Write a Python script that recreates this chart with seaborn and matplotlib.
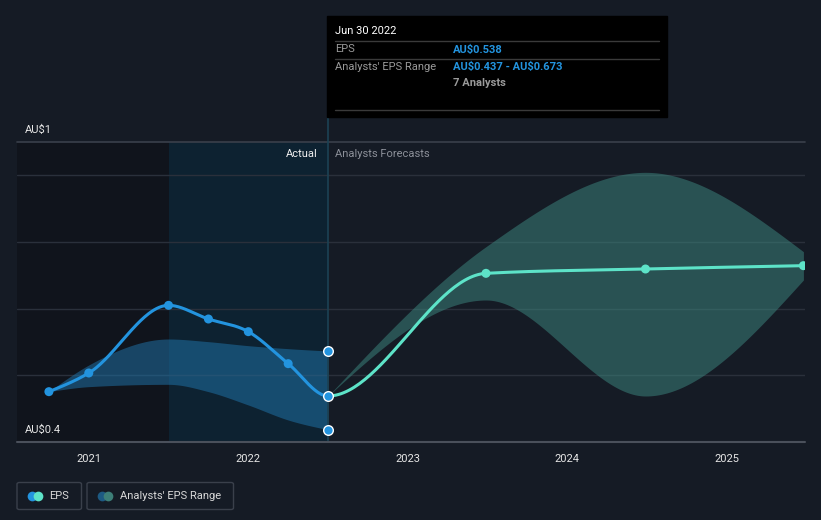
import numpy as np
import pandas as pd
import matplotlib
matplotlib.use("Agg")
import matplotlib.pyplot as plt
from matplotlib.patches import Rectangle, FancyBboxPatch
from matplotlib.lines import Line2D
import seaborn as sns

# ---------------- data ----------------
hist_x = [2020.75, 2021.0, 2021.5, 2021.75, 2022.0, 2022.25, 2022.5]
hist_eps = [0.551, 0.607, 0.810, 0.769, 0.731, 0.635, 0.538]
hist_low = [0.551, 0.566, 0.573, 0.551, 0.511, 0.466, 0.437]
hist_high = [0.551, 0.631, 0.709, 0.701, 0.689, 0.680, 0.673]

fc_x = [2022.5, 2023.49, 2024.49, 2025.48]
fc_eps = [0.538, 0.906, 0.919, 0.929]
fc_low = [0.538, 0.826, 0.538, 0.886]
fc_high = [0.538, 0.986, 1.209, 0.971]

year_ticks = [2021, 2022, 2023, 2024, 2025]
year_labels = ["2021", "2022", "2023", "2024", "2025"]
grid_vals = [0.6, 0.8, 1.0, 1.2]

# ---------------- helpers ----------------
def monotone(xs, ys, n=60):
    xs = np.asarray(xs, float); ys = np.asarray(ys, float)
    k = len(xs)
    h = np.diff(xs); s = np.diff(ys) / h
    t = np.zeros(k)
    for i in range(1, k - 1):
        h0, h1, s0, s1 = h[i - 1], h[i], s[i - 1], s[i]
        p = (s0 * h1 + s1 * h0) / (h0 + h1)
        t[i] = (np.sign(s0) + np.sign(s1)) * min(abs(s0), abs(s1), 0.5 * abs(p))
    if k > 2:
        t[0] = (3 * s[0] - t[1]) / 2
        t[-1] = (3 * s[-1] - t[-2]) / 2
    else:
        t[0] = t[-1] = s[0]
    ox, oy = [], []
    for i in range(k - 1):
        u = np.linspace(0, 1, n, endpoint=(i == k - 2))
        hh = h[i]
        h00 = 2 * u**3 - 3 * u**2 + 1
        h10 = u**3 - 2 * u**2 + u
        h01 = -2 * u**3 + 3 * u**2
        h11 = u**3 - u**2
        ox.append(xs[i] + u * hh)
        oy.append(h00 * ys[i] + h10 * hh * t[i] + h01 * ys[i + 1] + h11 * hh * t[i + 1])
    return np.concatenate(ox), np.concatenate(oy)

# ---------------- style ----------------
BG = "#151b25"
sns.set_theme(style="dark")
plt.rcParams.update({
    "figure.facecolor": BG, "axes.facecolor": BG, "savefig.facecolor": BG,
})
plt.rcParams["font.family"] = ["Roboto", "DejaVu Sans"]

W, H = 821, 520
fig = plt.figure(figsize=(W / 100, H / 100), dpi=100)
ax = fig.add_axes([17 / W, 1 - 442 / H, (805 - 17) / W, (442 - 142) / H])
ax.set_facecolor(BG)
XMIN, XMAX = 2020.55, 2025.49
YMIN, YMAX = 0.4, 1.3
ax.set_xlim(XMIN, XMAX)
ax.set_ylim(YMIN, YMAX)

def fx(px):
    return px / W

def fy(py):
    return 1 - py / H

# background regions
ax.axvspan(XMIN, 2021.5, color="#10141c", zorder=0, lw=0)
ax.axvspan(2021.5, 2022.5, color="#0d2231", zorder=0, lw=0)

# grid lines
for g in grid_vals:
    ax.axhline(g, color="#2a303b", lw=1, zorder=1)
ax.axhline(YMAX, color="#3a404b", lw=1.2, zorder=1, clip_on=False)

# bands
bx, bl = monotone(hist_x, hist_low)
_, bh = monotone(hist_x, hist_high)
ax.fill_between(bx, bl, bh, color="#1f6fa3", alpha=0.55, lw=0, zorder=2)
fxs, fl = monotone(fc_x, fc_low)
_, fh = monotone(fc_x, fc_high)
ax.fill_between(fxs, fl, fh, color="#3d8a82", alpha=0.5, lw=0, zorder=2)

# lines: one smooth EPS series, coloured by actual / forecast
all_x = hist_x + fc_x[1:]
all_eps = hist_eps + fc_eps[1:]
ex, ey = monotone(all_x, all_eps)
split = hist_x[-1]
m_h = ex <= split + 1e-9
m_f = ex >= split - 1e-9
sns.lineplot(x=ex[m_h], y=ey[m_h], ax=ax, color="#2394df", lw=2.2, zorder=4, sort=False, estimator=None)
sns.lineplot(x=ex[m_f], y=ey[m_f], ax=ax, color="#5de3c8", lw=2.2, zorder=4, sort=False, estimator=None)

# markers
sns.scatterplot(x=hist_x[:-1], y=hist_eps[:-1], ax=ax, color="#2394df", s=42,
                edgecolor="none", zorder=5)
sns.scatterplot(x=fc_x[1:], y=fc_eps[1:], ax=ax, color="#5de3c8", s=42,
                edgecolor="none", zorder=5)
sns.scatterplot(x=[2022.5, 2022.5, 2022.5], y=[hist_eps[-1], hist_low[-1], hist_high[-1]],
                ax=ax, color="#2394df", s=48, edgecolor="white", linewidth=1.0, zorder=6)

# vertical marker line
ax.plot([2022.5, 2022.5], [YMIN, YMAX], color="#1c4254", lw=1.2, zorder=3)
fig.add_artist(Line2D([fx(327.5), fx(327.5)], [fy(117), fy(142)], color="#1c4254", lw=1.2))

# axis
ax.axhline(YMIN, color="#4a505b", lw=1.5, zorder=6, clip_on=False)
for s in ax.spines.values():
    s.set_visible(False)
ax.set_yticks([])
ax.set_xticks(year_ticks)
ax.set_xticklabels(year_labels, color="#e6e6e6", fontsize=8)
ax.tick_params(axis="x", length=4, color="#4a505b", pad=5, width=1)
ax.grid(False)
ax.set_xlabel(""); ax.set_ylabel("")

# y labels
fig.text(fx(25), fy(130), "AU\\$1", color="#e6e6e6", fontsize=8, va="center", ha="left")
fig.text(fx(25), fy(430), "AU\\$0.4", color="#e6e6e6", fontsize=8, va="center", ha="left")
fig.text(fx(318), fy(154), "Actual", color="#f0f0f0", fontsize=8, va="center", ha="right")
fig.text(fx(335), fy(154), "Analysts Forecasts", color="#8c9099", fontsize=8, va="center", ha="left")

# tooltip
fig.add_artist(Rectangle((fx(327), fy(117)), (667 - 327) / W, (117 - 16) / H,
                         transform=fig.transFigure, color="#000000", zorder=10))
for yy in [41.5, 58.5, 109.5]:
    fig.add_artist(Line2D([fx(335), fx(659)], [fy(yy), fy(yy)], color="#3a3a3a", lw=1, zorder=11))
fig.text(fx(335), fy(31), "Jun 30 2022", color="#ffffff", fontsize=8, va="center", zorder=12)
fig.text(fx(335), fy(49.5), "EPS", color="#9a9a9a", fontsize=8, va="center", zorder=12)
fig.text(fx(453), fy(49.5), "AU\\$0.538", color="#2394df", fontsize=8, va="center",
         fontweight="bold", zorder=12)
fig.text(fx(335), fy(66.5), "Analysts' EPS Range", color="#9a9a9a", fontsize=8, va="center", zorder=12)
fig.text(fx(453), fy(66.5), "AU\\$0.437 - AU\\$0.673", color="#2394df", fontsize=8, va="center",
         fontweight="bold", zorder=12)
fig.text(fx(453), fy(83.5), "7 Analysts", color="#9a9a9a", fontsize=8, va="center",
         fontweight="bold", zorder=12)

# legend
def legend_box(x0, x1, c1, c2, cxa, cxb, tx, label):
    fig.add_artist(FancyBboxPatch((fx(x0), fy(509.5)), (x1 - x0) / W, 27 / H,
                                  boxstyle="round,pad=0,rounding_size=0.003",
                                  transform=fig.transFigure, facecolor="none",
                                  edgecolor="#3a404b", lw=1))
    fig.add_artist(Line2D([fx(cxa)], [fy(495.8)], marker="o", ms=7, color=c1, mec="none"))
    fig.add_artist(Line2D([fx(cxb)], [fy(495.8)], marker="o", ms=7, color=c2, mec="none"))
    fig.text(fx(tx), fy(495.8), label, color="#d8d8d8", fontsize=8, va="center")

legend_box(17, 81.5, "#2394df", "#5de3c8", 31.5, 37.5, 49.5, "EPS")
legend_box(87, 233.5, "#1d5a83", "#3d7f78", 101.5, 107.5, 120, "Analysts' EPS Range")

fig.savefig("out.png", dpi=100, facecolor=BG)
